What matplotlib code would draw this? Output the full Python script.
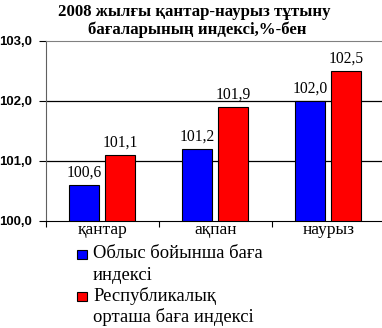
import matplotlib
matplotlib.use("Agg")
import matplotlib.pyplot as plt
import matplotlib.transforms as mtransforms
from matplotlib.patches import Rectangle
import numpy as np

categories = ["қантар", "ақпан", "наурыз"]
oblys = [100.6, 101.2, 102.0]
respublika = [101.1, 101.9, 102.5]
oblys_labels = ["100,6", "101,2", "102,0"]
resp_labels = ["101,1", "101,9", "102,5"]
series_names = ["Облыс бойынша баға\nиндексі", "Республикалық\nорташа баға индексі"]
series_colors = ["#0000ff", "#ff0000"]
yticks = [100.0, 101.0, 102.0, 103.0]
ytick_labels = ["100,0", "101,0", "102,0", "103,0"]
title = "2008 жылғы қантар-наурыз тұтыну\nбағаларының индексі,%-бен"

serif = ["Liberation Serif", "DejaVu Serif"]
sans = ["Liberation Sans", "DejaVu Sans"]
W, H = 382, 328

fig = plt.figure(figsize=(W / 100, H / 100), dpi=100)
renderer = fig.canvas.get_renderer()


def size_for(text, target_px, family, weight="normal"):
    t = fig.text(0, 0, text, fontsize=10, family=family, fontweight=weight)
    wpx = t.get_window_extent(renderer).width
    t.remove()
    return 10 * target_px / wpx


fs_title = size_for(title.split("\n")[0], 272, serif, "bold")
fs_cat = size_for(categories[0], 50, serif)
fs_leg = size_for(series_names[0].split("\n")[0], 170, serif)
fs_dl = size_for(oblys_labels[0], 35, serif)
fs_yt = size_for(ytick_labels[-1], 33, sans, "bold")

ax = fig.add_axes([46 / W, 107 / H, 339 / W, 180 / H])

x = np.arange(len(categories))
w = 0.265
ax.bar(x - 0.165, np.array(oblys) - 100, w, bottom=100, color=series_colors[0],
       edgecolor="black", linewidth=0.8, zorder=3)
ax.bar(x + 0.155, np.array(respublika) - 100, w, bottom=100, color=series_colors[1],
       edgecolor="black", linewidth=0.8, zorder=3)

for xi, v, lab in zip(x - 0.165, oblys, oblys_labels):
    ax.text(xi, v + 0.08, lab, ha="center", va="bottom", fontsize=fs_dl, family=serif)
for xi, v, lab in zip(x + 0.155, respublika, resp_labels):
    ax.text(xi, v + 0.08, lab, ha="center", va="bottom", fontsize=fs_dl, family=serif)

ax.set_xlim(-0.5, 2.5)
ax.set_ylim(100, 103)
ax.set_yticks(yticks)
ax.set_yticklabels(ytick_labels, fontsize=fs_yt, fontweight="bold", family=sans)
ax.set_xticks([-0.5, 0.5, 1.5, 2.5])
ax.set_xticklabels([])
ax.set_xticks(x, minor=True)
ax.set_xticklabels(categories, minor=True, fontsize=fs_cat, family=serif)
shift = mtransforms.ScaledTranslation(-9 / 100, 0, fig.dpi_scale_trans)
for lbl in ax.get_xticklabels(minor=True):
    lbl.set_transform(lbl.get_transform() + shift)
ax.tick_params(axis="x", which="minor", length=0, pad=1)
ax.tick_params(axis="x", which="major", length=4, direction="out", color="black")
ax.tick_params(axis="y", length=5, direction="out", pad=5)

for yv in [101.0, 102.0]:
    ax.axhline(yv, color="black", linewidth=0.9, zorder=1)
ax.spines["right"].set_visible(False)
ax.spines["top"].set_color("#808080")
ax.spines["left"].set_color("#606060")
ax.spines["bottom"].set_color("black")

lines = title.split("\n")
fig.text(194 / W, 1 - 12 / H, lines[0], ha="center", va="center", fontsize=fs_title,
         fontweight="bold", family=serif)
fig.text(197 / W, 1 - 30 / H, lines[1], ha="center", va="center", fontsize=fs_title,
         fontweight="bold", family=serif)

# legend
entry_y = [254, 296]
for name, col, y0 in zip(series_names, series_colors, entry_y):
    fig.patches.append(Rectangle((77 / W, 1 - (y0 + 4.5) / H), 9.5 / W, 9 / H,
                                 transform=fig.transFigure, facecolor=col,
                                 edgecolor="black", linewidth=0.8))
    for k, ln in enumerate(name.split("\n")):
        fig.text(93 / W, 1 - (y0 + 21.5 * k) / H, ln, ha="left", va="center",
                 fontsize=fs_leg, family=serif)

fig.savefig("out.png", dpi=100)
